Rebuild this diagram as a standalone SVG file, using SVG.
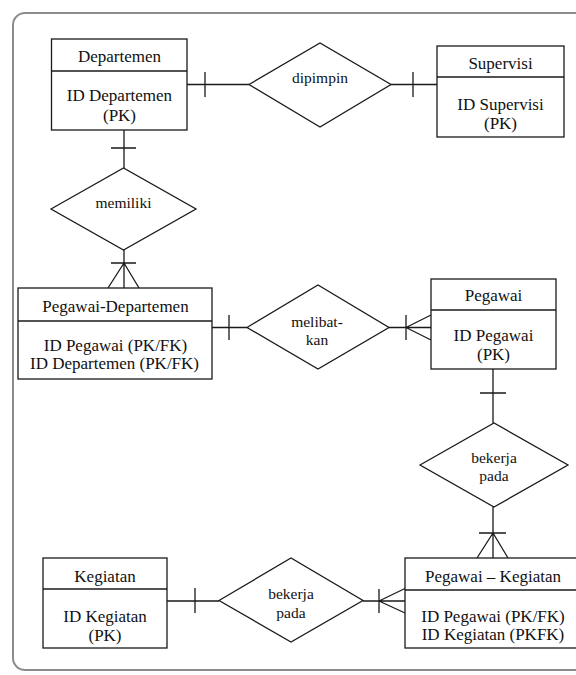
<svg xmlns="http://www.w3.org/2000/svg" width="576" height="675" viewBox="0 0 576 675">
<defs>
<style>
.frame{fill:#fff;stroke:#8c8c8c;stroke-width:2}
.box{fill:#fff;stroke:#1a1a1a;stroke-width:1.3}
.ln{fill:none;stroke:#1a1a1a;stroke-width:1.3}
text{font-family:'Liberation Serif','DejaVu Serif','Times New Roman',serif;fill:#111;text-anchor:middle}
.t{font-size:17px}
.r{font-size:15.5px}
</style>
</defs>
<rect width="576" height="675" fill="#fff"/>
<rect class="frame" x="13" y="13" width="600" height="657" rx="12" ry="12"/>

<g id="connectors">
<path class="ln" d="M187 84.5H249M205 72V97"/>
<path class="ln" d="M391 84.5H437M413 72V97"/>
<path class="ln" d="M124 130V168M111 148H136"/>
<path class="ln" d="M124 250V288M111 263H136M124 263L108 288M124 263L139 288"/>
<path class="ln" d="M212 327.5H247M229 315V340"/>
<path class="ln" d="M389 327.5H431M406 315V340M406 327.5L431 315M406 327.5L431 340"/>
<path class="ln" d="M493 369V423M480 393H506"/>
<path class="ln" d="M493 507V558M479 533H506M493 533L477 558M493 533L508 558"/>
<path class="ln" d="M167 601H219M195 588V613"/>
<path class="ln" d="M363 601H405M379 589V613M379 601L405 588.5M379 601L405 613"/>
</g>

<g id="departemen" font-family="Liberation Serif, serif">
<rect class="box" x="51.5" y="39" width="135.5" height="91"/>
<path class="ln" d="M51.5 71H187"/>
<text class="t" x="119.5" y="62">Departemen</text>
<text class="t" x="119.5" y="101">ID Departemen</text>
<text class="t" x="119.5" y="121">(PK)</text>
</g>

<g id="dipimpin">
<polygon class="box" points="249,84.5 320,43 391,84.5 320,127"/>
<text class="r" x="320" y="83">dipimpin</text>
</g>

<g id="supervisi">
<rect class="box" x="437" y="46" width="127" height="91"/>
<path class="ln" d="M437 77H564"/>
<text class="t" x="500.5" y="69">Supervisi</text>
<text class="t" x="500.5" y="110">ID Supervisi</text>
<text class="t" x="500.5" y="129">(PK)</text>
</g>

<g id="memiliki">
<polygon class="box" points="51,209 123.5,168 196,209 123.5,250"/>
<text class="r" x="123.5" y="208">memiliki</text>
</g>

<g id="pegawai-departemen">
<rect class="box" x="18" y="288" width="194" height="91"/>
<path class="ln" d="M18 321H212"/>
<text class="t" x="115.5" y="312">Pegawai-Departemen</text>
<text class="t" x="115.5" y="351">ID Pegawai (PK/FK)</text>
<text class="t" x="114.5" y="369">ID Departemen (PK/FK)</text>
</g>

<g id="melibatkan">
<polygon class="box" points="247,327.5 318,285 389,327.5 318,369"/>
<text class="r" x="317" y="327">melibat-</text>
<text class="r" x="317" y="345">kan</text>
</g>

<g id="pegawai">
<rect class="box" x="431" y="279" width="125" height="90"/>
<path class="ln" d="M431 310H556"/>
<text class="t" x="493.5" y="301">Pegawai</text>
<text class="t" x="493.5" y="341">ID Pegawai</text>
<text class="t" x="493.5" y="360">(PK)</text>
</g>

<g id="bekerja-pada-1">
<polygon class="box" points="420,465 494,423 568,465 494,507"/>
<text class="r" x="494" y="463">bekerja</text>
<text class="r" x="494" y="481">pada</text>
</g>

<g id="kegiatan">
<rect class="box" x="43" y="558" width="124" height="90"/>
<path class="ln" d="M43 589H167"/>
<text class="t" x="105" y="582">Kegiatan</text>
<text class="t" x="105" y="622">ID Kegiatan</text>
<text class="t" x="105" y="641">(PK)</text>
</g>

<g id="bekerja-pada-2">
<polygon class="box" points="219,600.5 291,558 363,600.5 291,642"/>
<text class="r" x="291" y="599">bekerja</text>
<text class="r" x="291" y="618">pada</text>
</g>

<g id="pegawai-kegiatan">
<rect class="box" x="405" y="558" width="174" height="90"/>
<path class="ln" d="M405 590H579"/>
<text class="t" x="493" y="582">Pegawai – Kegiatan</text>
<text class="t" x="493" y="622">ID Pegawai (PK/FK)</text>
<text class="t" x="493" y="640">ID Kegiatan (PKFK)</text>
</g>
</svg>
